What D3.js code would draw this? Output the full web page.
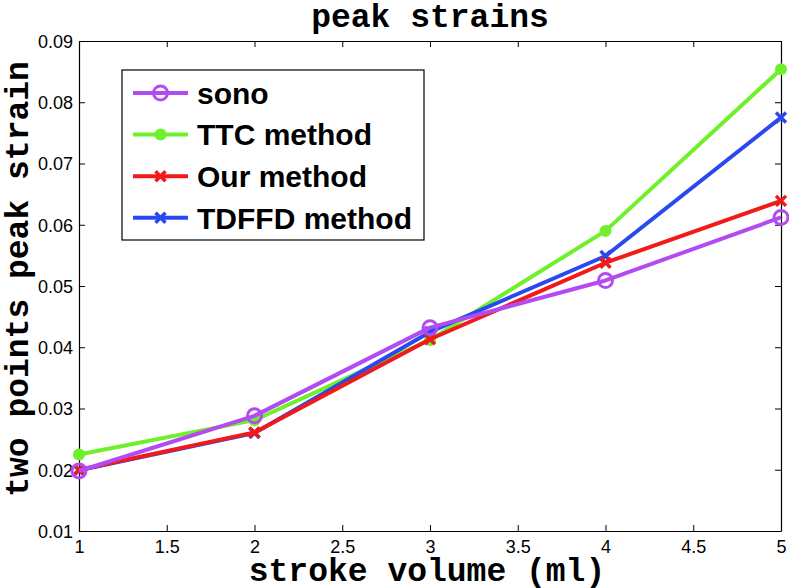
<!DOCTYPE html>
<html>
<head>
<meta charset="utf-8">
<script src="https://cdn.jsdelivr.net/npm/d3@7"></script>
<style>
  body { margin: 0; background: #fff; }
  .tick-label { font-family: "Liberation Sans", Arial, sans-serif; font-size: 18px; fill: #000; }
  .mono { font-family: "Courier New", "Liberation Mono", monospace; font-weight: bold; font-size: 33px; fill: #000; }
  .legend-text { font-family: "Liberation Sans", Arial, sans-serif; font-weight: bold; font-size: 30px; fill: #000; }
</style>
</head>
<body>
<svg class="chart-frame"></svg>
<script>
const volumes = [1, 2, 3, 4, 5];
const sono = [0.0198, 0.0288, 0.0432, 0.0509, 0.0612];
const ttc = [0.0225, 0.0281, 0.0412, 0.0590, 0.0854];
const ours = [0.0200, 0.0261, 0.0413, 0.0538, 0.0639];
const tdffd = [0.0199, 0.0260, 0.0425, 0.0549, 0.0775];
const xTicks = [1, 1.5, 2, 2.5, 3, 3.5, 4, 4.5, 5];
const yTicks = [0.01, 0.02, 0.03, 0.04, 0.05, 0.06, 0.07, 0.08, 0.09];

const series = [
  {name: "sono", values: sono, color: "#b24cf2", marker: "circle"},
  {name: "TTC method", values: ttc, color: "#6ef02a", marker: "dot"},
  {name: "Our method", values: ours, color: "#f01a1a", marker: "x"},
  {name: "TDFFD method", values: tdffd, color: "#2a48f0", marker: "x"}
];
// draw order so purple sits on top, like the original
const drawOrder = [1, 3, 2, 0];

const width = 789, height = 588;
const margin = {top: 41, right: 8, bottom: 57, left: 79};
const innerW = width - margin.left - margin.right;
const innerH = height - margin.top - margin.bottom;

const svg = d3.select(".chart-frame")
  .attr("width", width)
  .attr("height", height);

const graph = svg.append("g")
  .attr("transform", "translate(" + margin.left + "," + margin.top + ")");

const x = d3.scaleLinear().domain([1, 5]).range([0, innerW]);
const y = d3.scaleLinear().domain([0.01, 0.09]).range([innerH, 0]);

// axes, MATLAB style: box with inward ticks on all sides
graph.append("g")
  .attr("transform", "translate(0," + innerH + ")")
  .call(d3.axisBottom(x).tickValues(xTicks).tickSizeInner(-6).tickSizeOuter(0).tickFormat(d3.format("~g")))
  .call(g => g.selectAll("text").attr("class", "tick-label").attr("y", 22).attr("dy", 0));

graph.append("g")
  .call(d3.axisTop(x).tickValues(xTicks).tickSizeInner(-6).tickSizeOuter(0).tickFormat(""));

graph.append("g")
  .call(d3.axisLeft(y).tickValues(yTicks).tickSizeInner(-6).tickSizeOuter(0).tickFormat(d3.format(".2f")))
  .call(g => g.selectAll("text").attr("class", "tick-label").attr("x", -6).attr("dy", "0.36em"));

graph.append("g")
  .attr("transform", "translate(" + innerW + ",0)")
  .call(d3.axisRight(y).tickValues(yTicks).tickSizeInner(-6).tickSizeOuter(0).tickFormat(""));

graph.selectAll(".domain").attr("stroke", "#000").attr("stroke-width", 1.2);
graph.selectAll(".tick line").attr("stroke", "#000").attr("stroke-width", 1);

const line = d3.line()
  .x((d, i) => x(volumes[i]))
  .y(d => y(d));

function drawMarker(sel, marker, color, cx, cy) {
  if (marker === "circle") {
    sel.append("circle").attr("cx", cx).attr("cy", cy).attr("r", 7)
      .attr("fill", "none").attr("stroke", color).attr("stroke-width", 3);
  } else if (marker === "dot") {
    sel.append("circle").attr("cx", cx).attr("cy", cy).attr("r", 6)
      .attr("fill", color);
  } else {
    const s = 5;
    sel.append("path")
      .attr("d", "M" + (cx - s) + "," + (cy - s) + "L" + (cx + s) + "," + (cy + s) +
                 "M" + (cx - s) + "," + (cy + s) + "L" + (cx + s) + "," + (cy - s))
      .attr("stroke", color).attr("stroke-width", 3.5).attr("fill", "none");
  }
}

drawOrder.forEach(k => {
  const s = series[k];
  const g = graph.append("g");
  g.append("path")
    .datum(s.values)
    .attr("d", line)
    .attr("fill", "none")
    .attr("stroke", s.color)
    .attr("stroke-width", 4)
    .attr("stroke-linejoin", "round");
  s.values.forEach((v, i) => drawMarker(g, s.marker, s.color, x(volumes[i]), y(v)));
});

// legend
const legend = svg.append("g").attr("transform", "translate(122,70)");
legend.append("rect")
  .attr("width", 302).attr("height", 170)
  .attr("fill", "#fff").attr("stroke", "#000").attr("stroke-width", 1.2);

series.forEach((s, i) => {
  const ly = 23 + i * 41.6;
  const g = legend.append("g");
  g.append("line").attr("x1", 11).attr("x2", 66).attr("y1", ly).attr("y2", ly)
    .attr("stroke", s.color).attr("stroke-width", 4);
  drawMarker(g, s.marker, s.color, 38.5, ly);
  g.append("text")
    .attr("class", "legend-text")
    .attr("x", 75).attr("y", ly).attr("dy", "0.36em")
    .text(s.name);
});

// titles
svg.append("text")
  .attr("class", "mono")
  .attr("x", margin.left + innerW / 2).attr("y", 27)
  .attr("text-anchor", "middle")
  .text("peak strains");

svg.append("text")
  .attr("class", "mono")
  .attr("x", 427).attr("y", 581)
  .attr("text-anchor", "middle")
  .text("stroke volume (ml)");

svg.append("text")
  .attr("class", "mono")
  .attr("transform", "translate(28,279) rotate(-90)")
  .attr("text-anchor", "middle")
  .text("two points peak strain");
</script>
</body>
</html>
